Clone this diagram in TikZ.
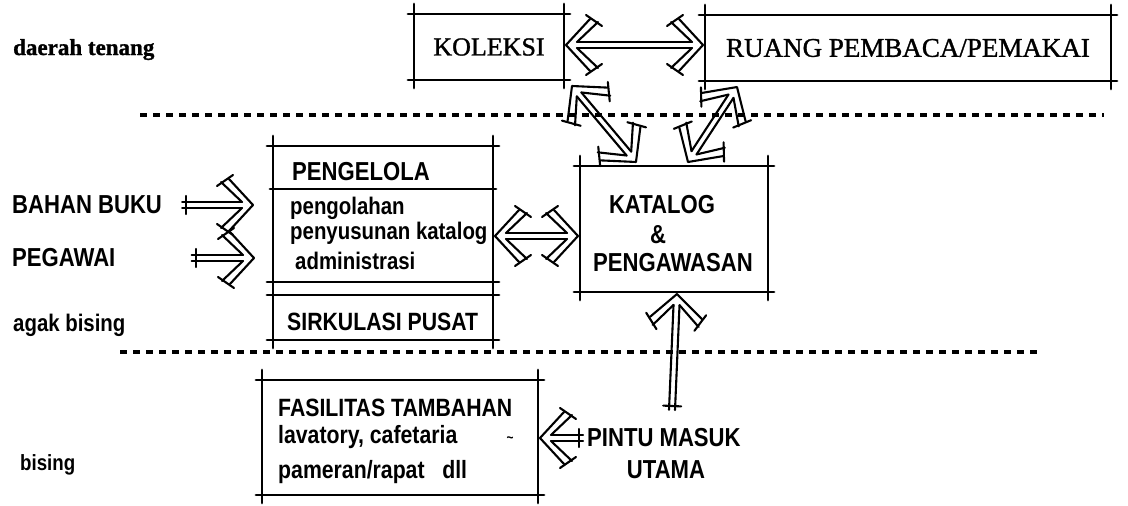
\documentclass[tikz,border=0pt]{standalone}
\usepackage{fontspec}
\setmainfont{Liberation Serif}
\newfontfamily\sfc[FakeStretch=0.85]{Liberation Sans Bold}
\newfontfamily\srf[FakeBold=1.2]{Liberation Serif}
\usetikzlibrary{calc}
\tikzset{
  frame/.style={line width=2.8pt, line cap=round},
  zone/.style={line width=3.2pt, dash pattern=on 7pt off 6pt},
  box/.style={draw=none, inner sep=0pt, outer sep=0pt},
  arr/.style={line width=2.1pt, line cap=round, line join=round},
  lbl/.style={font=\sfc\fontsize{26}{28}\selectfont, inner sep=0pt, anchor=west},
  lsm/.style={lbl, font=\sfc\fontsize{24}{26}\selectfont},
  slab/.style={font=\srf\fontsize{26}{28}\selectfont, inner sep=0pt},
}
\newcommand\archframe[1]{%
  \draw[frame] ([xshift=-6pt]#1.north west) -- ([xshift=6pt]#1.north east);
  \draw[frame] ([xshift=-6pt]#1.south west) -- ([xshift=6pt]#1.south east);
  \draw[frame] ([yshift=10pt]#1.north west) -- ([yshift=-8pt]#1.south west);
  \draw[frame] ([yshift=10pt]#1.north east) -- ([yshift=-8pt]#1.south east);
}
% hollow hand-drawn style arrow from #1 to #2; #3=1 double headed
\newcommand\blockarrow[3]{%
  \path let \p1=($(#2)-(#1)$) in \pgfextra{%
    \pgfmathsetmacro\tmpA{atan2(\y1,\x1)}\xdef\BAang{\tmpA}%
    \pgfmathsetmacro\tmpL{veclen(\x1,\y1)}\xdef\BAlen{\tmpL}};
  \begin{scope}[shift={(#1)}, rotate=\BAang]
    \draw[arr] (\BAlen-24,26) -- (\BAlen,0) -- (\BAlen-24,-26);
    \draw[arr] (\BAlen-32,23) -- (\BAlen-11,3);
    \draw[arr] (\BAlen-32,-23) -- (\BAlen-11,-3);
    \draw[arr] (\BAlen-20,30) -- (\BAlen-36,19);
    \draw[arr] (\BAlen-20,-30) -- (\BAlen-36,-19);
    \ifnum#3=1
      \draw[arr] (24,26) -- (0,0) -- (24,-26);
      \draw[arr] (32,23) -- (11,3);
      \draw[arr] (32,-23) -- (11,-3);
      \draw[arr] (20,30) -- (36,19);
      \draw[arr] (20,-30) -- (36,-19);
      \draw[arr] (11,3) -- (\BAlen-11,3);
      \draw[arr] (11,-3) -- (\BAlen-11,-3);
    \else
      \draw[arr] (0,3) -- (\BAlen-11,3);
      \draw[arr] (0,-3) -- (\BAlen-11,-3);
      \draw[arr] (4,-9) -- (4,9);
    \fi
  \end{scope}}
\begin{document}
\begin{tikzpicture}[x=1pt,y=-1pt]
\useasboundingbox (0,0) rectangle (1128,506);
\fill[white] (0,0) rectangle (1128,506);

% zone separators
\draw[zone] (140,115) -- (1104,115);
\draw[zone] (120,352) -- (1040,352);

% zone labels
\node[font=\srf\bfseries\fontsize{23}{25}\selectfont, inner sep=0pt, anchor=base west] (ten) at (13,55) {daerah tenang};
\node[lsm] (agak) at (13,325) {agak bising};
\node[lsm, font=\sfc\fontsize{22}{24}\selectfont] (bis) at (20,465) {bising};

% boxes
\node[box, slab, minimum width=150pt, minimum height=66pt] (kol) at (489,47) {KOLEKSI};
\node[box, slab, font=\srf\fontsize{27}{29}\selectfont, minimum width=406pt, minimum height=66pt] (ruang) at (908,48) {RUANG PEMBACA/PEMAKAI};
\node[box, minimum width=220pt, minimum height=136pt] (peng) at (383,214) {};
\node[box, minimum width=220pt, minimum height=45pt] (sirk) at (383,317.5) {};
\node[box, minimum width=188pt, minimum height=126pt] (kat) at (674,229) {};
\node[box, minimum width=276pt, minimum height=115pt] (fas) at (400,437.5) {};
\archframe{kol}
\archframe{ruang}
\archframe{peng}
\archframe{sirk}
\archframe{kat}
\archframe{fas}
\coordinate (pl) at (273,189);
\coordinate (pr) at (493,189);
\draw[frame] ([xshift=-3pt]pl) -- ([xshift=3pt]pr);

% texts in boxes
\node[lbl] (tpeng) at (292,172) {PENGELOLA};
\node[lsm] (t1) at (290,208) {pengolahan};
\node[lsm] (t2) at (290,233) {penyusunan katalog};
\node[lsm] (t3) at (295,261) {administrasi};
\node[lbl, font=\sfc\fontsize{25}{27}\selectfont] (tsirk) at (287,322) {SIRKULASI PUSAT};
\node[lbl, anchor=center] (tk1) at (662,205) {KATALOG};
\node[lbl, anchor=center] (tk2) at (658,235) {\&};
\node[lbl, anchor=center] (tk3) at (673,263) {PENGAWASAN};
\node[lbl, font=\sfc\fontsize{25}{27}\selectfont] (tf1) at (278,408) {FASILITAS TAMBAHAN};
\node[lsm, font=\sfc\fontsize{25}{27}\selectfont] (tf2) at (278,437) {lavatory, cafetaria};
\node[lsm, font=\sfc\fontsize{25}{27}\selectfont] (tf3) at (278,472) {pameran/rapat\ \ \ dll};
\node[lbl, anchor=center, font=\sfc\fontsize{14}{14}\selectfont] (tild) at (510,440) {\char`\~};

% outside labels
\node[lbl] (bahan) at (12,205) {BAHAN BUKU};
\node[lbl] (peg) at (12,258) {PEGAWAI};
\node[lbl] (pintu) at (587,438) {PINTU MASUK};
\node[lbl, anchor=center] (utama) at (666,470) {UTAMA};

% connector end points
\coordinate (kr1) at ($(kol.east)+(2,-2)$);
\coordinate (kr2) at ($(ruang.west)+(-2,-3)$);
\coordinate (kk1) at ($(kol.south east)+(8,6)$);
\coordinate (kk2) at ($(kat.north west)+(56,-4)$);
\coordinate (rk1) at ($(kat.north west)+(108,-4)$);
\coordinate (rk2) at ($(ruang.south west)+(32,6)$);
\coordinate (pk1) at ($(peng.east)+(2,22)$);
\coordinate (pk2) at ($(kat.west)+(-2,7)$);
\coordinate (bb1) at ($(bahan.east)+(20,0)$);
\coordinate (bb2) at ($(peng.west |- bahan.east)+(-20,0)$);
\coordinate (pg1) at ($(peg.east)+(76,0)$);
\coordinate (pg2) at ($(peng.west |- peg.east)+(-19,0)$);
\coordinate (pin) at (672,410);
\coordinate (kbot) at ($(kat.south)+(3,2)$);
\coordinate (pw) at ($(pintu.west)+(-4,0)$);
\coordinate (fe) at ($(fas.east |- pintu.west)+(2,0)$);

% connectors
\blockarrow{kr1}{kr2}{1}
\blockarrow{kk1}{kk2}{1}
\blockarrow{rk1}{rk2}{1}
\blockarrow{pk1}{pk2}{1}
\blockarrow{bb1}{bb2}{0}
\blockarrow{pg1}{pg2}{0}
\blockarrow{pin}{kbot}{0}
\blockarrow{pw}{fe}{0}
\end{tikzpicture}
\end{document}
